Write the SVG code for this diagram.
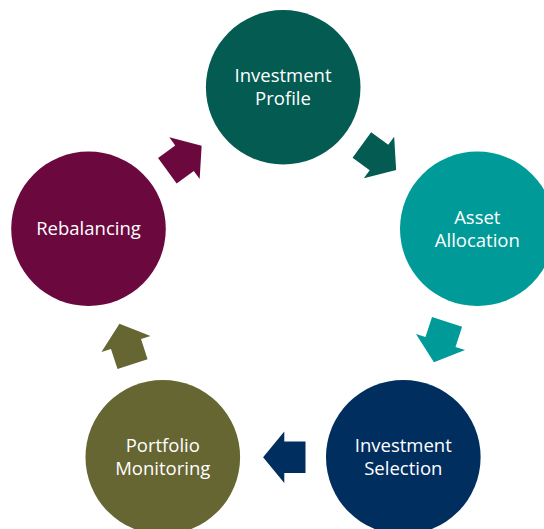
<svg xmlns="http://www.w3.org/2000/svg" width="544" height="529" viewBox="0 0 544 529">
  <defs>
    <!-- block arrow pointing along +x, origin at the base of the head -->
    <polygon id="blockArrow" points="-21.2,-15.8 0,-15.8 0,-25.8 21.2,0 0,25.8 0,15.8 -21.2,15.8"/>
  </defs>
  <style>
    .step { stroke: none; }
    .label { font-family: "Open Sans", "Noto Sans", sans-serif; font-size: 18.5px; fill: #ffffff; text-anchor: middle; }
    .c-profile { fill: #035b52; }
    .c-alloc { fill: #009a98; }
    .c-select { fill: #002e5f; }
    .c-monitor { fill: #666633; }
    .c-rebal { fill: #6b093f; }
  </style>
  <rect width="544" height="529" fill="#ffffff"/>

  <g id="connectors">
    <use href="#blockArrow" class="c-profile" transform="translate(379,157.5) rotate(36)"/>
    <use href="#blockArrow" class="c-alloc" transform="translate(440.5,342) rotate(108)"/>
    <use href="#blockArrow" class="c-select" transform="translate(284.3,457.3) rotate(180)"/>
    <use href="#blockArrow" class="c-monitor" transform="translate(126,344) rotate(252)"/>
    <use href="#blockArrow" class="c-rebal" transform="translate(184.5,158.2) rotate(-36)"/>
  </g>

  <g id="investment-profile">
    <circle class="step c-profile" cx="283.2" cy="87.3" r="77.3"/>
    <text class="label" x="283" y="82.3">Investment</text>
    <text class="label" x="283" y="105.3">Profile</text>
  </g>

  <g id="asset-allocation">
    <circle class="step c-alloc" cx="477.3" cy="228.8" r="77.3"/>
    <text class="label" x="477.3" y="223.5">Asset</text>
    <text class="label" x="477.3" y="246.5">Allocation</text>
  </g>

  <g id="investment-selection">
    <circle class="step c-select" cx="403.3" cy="457.2" r="77.3"/>
    <text class="label" x="403.3" y="451.8">Investment</text>
    <text class="label" x="403.3" y="474.8">Selection</text>
  </g>

  <g id="portfolio-monitoring">
    <circle class="step c-monitor" cx="162.8" cy="457.2" r="77.3"/>
    <text class="label" x="162.8" y="452.2">Portfolio</text>
    <text class="label" x="162.8" y="475.4">Monitoring</text>
  </g>

  <g id="rebalancing">
    <circle class="step c-rebal" cx="88.5" cy="228.8" r="77.3"/>
    <text class="label" x="88.5" y="234.7">Rebalancing</text>
  </g>
</svg>
